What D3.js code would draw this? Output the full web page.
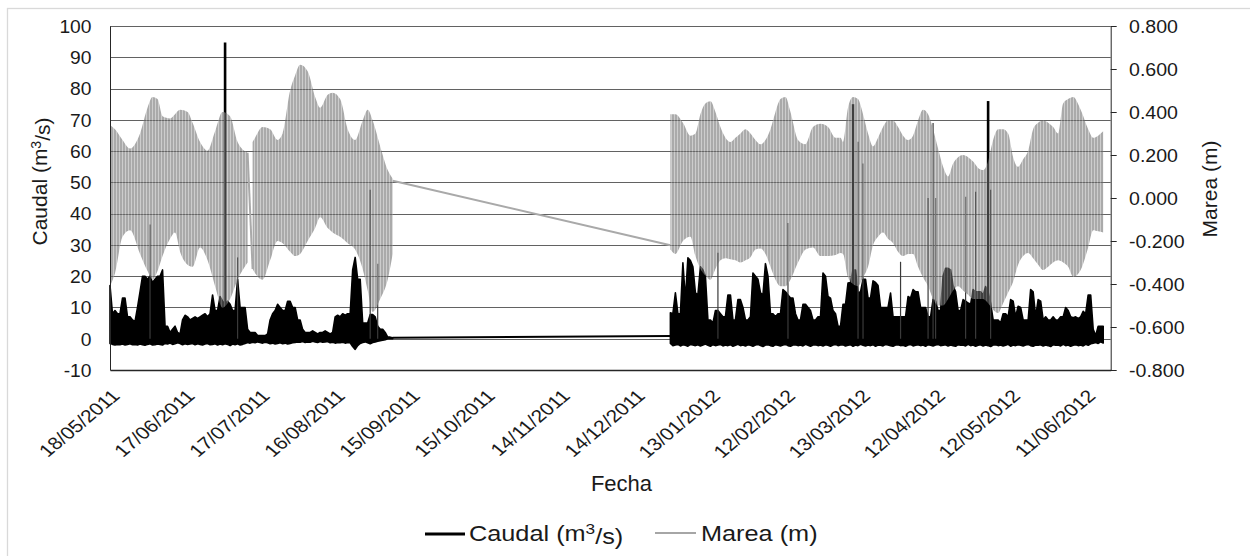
<!DOCTYPE html>
<html><head><meta charset="utf-8">
<script src="https://cdn.jsdelivr.net/npm/d3@7"></script>
<style>
body{margin:0;background:#fff}
svg text{font-family:"Liberation Sans",Arial,sans-serif;fill:#1a1a1a}
</style>
</head><body>
<svg id="c" width="1250" height="556"></svg>
<script>
// ---------------- DATA ----------------
const xTickLabels = ["18/05/2011","17/06/2011","17/07/2011","16/08/2011","15/09/2011","15/10/2011","14/11/2011","14/12/2011","13/01/2012","12/02/2012","13/03/2012","12/04/2012","12/05/2012","11/06/2012"];
const xDomain = ["2011-05-18","2012-06-21"];
const leftTicks = [-10,0,10,20,30,40,50,60,70,80,90,100];
const rightTicks = [-0.8,-0.6,-0.4,-0.2,0,0.2,0.4,0.6,0.8];

// Marea (m): envelope (daily high / low of the tidal oscillation), three recorded stretches
const tideDatesA = ["2011-05-18","2011-05-20","2011-05-23","2011-05-26","2011-05-30","2011-06-02","2011-06-04","2011-06-06","2011-06-08","2011-06-11","2011-06-13","2011-06-15","2011-06-18","2011-06-20","2011-06-23","2011-06-26","2011-06-29","2011-07-02","2011-07-05","2011-07-08","2011-07-12"];
const tideHighA = [0.34,0.32,0.27,0.23,0.30,0.42,0.47,0.46,0.38,0.37,0.39,0.41,0.40,0.35,0.26,0.22,0.31,0.40,0.38,0.26,0.21];
const tideLowA = [-0.41,-0.35,-0.18,-0.15,-0.26,-0.34,-0.38,-0.34,-0.27,-0.19,-0.16,-0.25,-0.31,-0.32,-0.23,-0.29,-0.41,-0.51,-0.47,-0.38,-0.30];

const tideDatesB = ["2011-07-14","2011-07-15","2011-07-18","2011-07-21","2011-07-24","2011-07-26","2011-07-29","2011-07-31","2011-08-02","2011-08-05","2011-08-08","2011-08-10","2011-08-13","2011-08-15","2011-08-18","2011-08-21","2011-08-24","2011-08-27","2011-08-29","2011-08-31","2011-09-03","2011-09-06","2011-09-08"];
const tideHighB = [0.26,0.28,0.33,0.32,0.27,0.30,0.50,0.57,0.62,0.59,0.47,0.42,0.48,0.49,0.46,0.32,0.27,0.36,0.41,0.36,0.24,0.13,0.09];
const tideLowB = [-0.33,-0.35,-0.38,-0.29,-0.20,-0.21,-0.25,-0.27,-0.26,-0.20,-0.14,-0.09,-0.14,-0.16,-0.18,-0.21,-0.24,-0.33,-0.43,-0.53,-0.47,-0.38,-0.26];

const tideDatesC = ["2011-12-28","2011-12-30","2012-01-02","2012-01-05","2012-01-07","2012-01-09","2012-01-11","2012-01-13","2012-01-15","2012-01-17",
"2012-01-19","2012-01-21","2012-01-23","2012-01-25","2012-01-27","2012-01-29","2012-01-31","2012-02-02","2012-02-04","2012-02-06",
"2012-02-08","2012-02-10","2012-02-12","2012-02-14","2012-02-17","2012-02-20","2012-02-23","2012-02-26","2012-02-29","2012-03-03",
"2012-03-05","2012-03-06","2012-03-08","2012-03-10","2012-03-12","2012-03-14","2012-03-16","2012-03-18","2012-03-20","2012-03-22",
"2012-03-24","2012-03-26","2012-03-28","2012-03-30","2012-04-01","2012-04-03","2012-04-05","2012-04-07","2012-04-09","2012-04-11",
"2012-04-13","2012-04-15","2012-04-17","2012-04-19","2012-04-21","2012-04-23","2012-04-25","2012-04-27","2012-04-29","2012-05-01",
"2012-05-03","2012-05-05","2012-05-07","2012-05-09","2012-05-11","2012-05-13","2012-05-15","2012-05-17","2012-05-19","2012-05-21",
"2012-05-23","2012-05-25","2012-05-27","2012-05-29","2012-05-31","2012-06-02","2012-06-04","2012-06-06","2012-06-09","2012-06-12",
"2012-06-14","2012-06-16","2012-06-18"];
const tideHighC = [0.39,0.39,0.35,0.29,0.30,0.39,0.44,0.45,0.40,0.33,
0.28,0.26,0.28,0.30,0.32,0.30,0.27,0.25,0.27,0.32,
0.40,0.46,0.47,0.40,0.27,0.25,0.33,0.345,0.33,0.28,
0.28,0.26,0.42,0.47,0.46,0.39,0.30,0.24,0.28,0.33,
0.36,0.36,0.33,0.29,0.27,0.29,0.36,0.41,0.39,0.32,
0.23,0.145,0.10,0.16,0.19,0.20,0.19,0.17,0.14,0.13,
0.17,0.27,0.32,0.32,0.30,0.19,0.145,0.18,0.22,0.32,
0.35,0.36,0.35,0.33,0.30,0.44,0.46,0.47,0.41,0.32,
0.28,0.29,0.31];
const tideLowC = [-0.24,-0.26,-0.20,-0.18,-0.27,-0.33,-0.36,-0.38,-0.33,-0.29,
-0.28,-0.285,-0.29,-0.30,-0.29,-0.275,-0.24,-0.235,-0.26,-0.32,
-0.38,-0.41,-0.41,-0.38,-0.30,-0.24,-0.23,-0.27,-0.27,-0.265,
-0.256,-0.26,-0.37,-0.40,-0.41,-0.37,-0.32,-0.22,-0.18,-0.16,
-0.19,-0.21,-0.25,-0.27,-0.26,-0.26,-0.32,-0.37,-0.41,-0.47,
-0.50,-0.50,-0.47,-0.43,-0.41,-0.43,-0.45,-0.47,-0.47,-0.47,
-0.49,-0.52,-0.535,-0.49,-0.44,-0.39,-0.31,-0.27,-0.256,-0.28,
-0.31,-0.335,-0.32,-0.30,-0.29,-0.30,-0.32,-0.367,-0.335,-0.23,
-0.15,-0.155,-0.16];

// straight connections drawn across missing tide records
const tideLinkFrom = ["2011-07-12","2011-09-08"];
const tideLinkFromValue = [0.21,0.08];
const tideLinkTo = ["2011-07-14","2011-12-28"];
const tideLinkToValue = [-0.33,-0.22];

// Caudal (m3/s): daily high / low envelope, two recorded stretches
const caudalStart1 = "2011-05-18";
const caudalHigh1 = [17,8,9,8,8,13,13,7,7,6,
5.5,10,15,20,20,19,20,18,19,20,
20,22,4,4,2,3,4,2,1.5,6,
7.5,7,6,6.5,7,6.5,7,7.5,8,7,
8,14,9,9,13.5,12,11,12,11,9,
9,19,10,10,10,3,2,2,2,1,
1,1,1,1.5,6,8,9,11,10,9,
9,12,12,10,10,6,6,3,2,2,
2,2.5,2,1.5,2,2,2.5,2,1.5,2,
7,7.5,7,8,7.5,8,8,22,26,19,
19,5,5,5,7.7,7.7,7,4,3,3,
2,0.5,0.5,0.3];
const caudalLow1 = [-1.5,-1.8,-2.0,-1.8,-1.9,-1.7,-2.0,-1.8,-1.6,-1.9,-1.8,-2.0,-1.7,-1.9,-2.1,-1.8,-1.6,-2.0,-1.9,-1.7,-1.8,-2.0,
-1.5,-1.7,-1.4,-1.8,-1.6,-1.3,-1.5,-1.9,-1.6,-1.8,-1.7,-1.5,-1.9,-1.6,-1.8,-2.0,-1.7,-1.5,-1.9,-1.8,-1.6,-2.0,-1.7,-1.9,-1.6,-1.8,-2.2,-1.7,-1.9,-1.6,-2.0,-1.8,-1.5,
-1.2,-1.4,-1.1,-1.3,-1.0,-1.2,-1.4,-1.1,-1.3,-1.6,-1.4,-1.7,-1.5,-1.3,-1.6,-1.4,-1.7,-1.5,-1.3,-1.2,-1.0,-1.1,-0.9,-1.2,-1.0,-1.1,-0.8,-1.0,-1.2,-0.9,-1.1,-1.0,-0.9,-1.3,-1.1,-1.4,-1.2,-1.3,-1.1,-1.4,-1.2,-1.3,
-2.5,-3.4,-2.2,-1.5,-1.2,-1.0,-1.3,-1.6,-1.2,-1.0,-0.8,-0.6,-0.5,-0.3,0,0,0];

const caudalStart2 = "2011-12-28";
const caudalHigh2 = [8.3,8,14.7,8,8,24.3,12.5,25.9,25,23,
14.7,14,23,22,20,6,6,5,9,9,
8,7,7,14,14,6,6,12.5,12.5,10,
6,6,7,21,20,19,14.7,14,24,20,
8,8,7,8,8,15.7,15,14,13,13,
8,6,6,11,11,10,9,6,6,7,
7,21,20,13.5,13,9,8,4,4,11,
11,17.8,18,22,22,14.6,15,19,19,13,
13,18.5,18,17,10,10,10,10,14.6,7,
7,7,7,7,7,13.5,13,15.7,15,15,
10,10,10,7,7,12.5,12,9,9,20,
22.5,22.5,22,17,15,9,9,12.5,12,11.4,
11,15.7,15,15,15,14,16.7,15,11.4,6,
6,6,5,8,8,7,12.5,12,7,10.4,
10,6,6,6,15.7,15,7,12.5,12,6,
7,6,6,7,6,6,7,7,10,9,
7,6.7,7,6.5,7,8.8,8,14,14,3,
1,4,4,4];
const caudalLow2 = [-1.5,-2.2,-2.0,-1.8,-2.3,-1.9,-2.1,-2.4,-1.8,-2.0,
-2.2,-1.9,-2.3,-2.0,-1.7,-2.1,-2.4,-1.9,-2.2,-2.0,
-1.8,-2.3,-2.0,-2.2,-1.9,-2.4,-2.1,-1.8,-2.2,-2.0,
-2.3,-1.9,-2.1,-2.4,-2.0,-1.8,-2.2,-2.5,-2.0,-1.9,
-2.2,-2.4,-1.9,-2.1,-2.3,-2.0,-1.8,-2.2,-2.4,-2.0,
-1.9,-2.2,-2.0,-2.3,-1.8,-2.1,-2.4,-2.0,-1.9,-2.2,
-2.0,-2.3,-1.9,-2.1,-2.4,-2.0,-1.8,-2.2,-2.0,-1.9,
-2.3,-2.1,-1.9,-2.4,-2.0,-2.2,-1.8,-2.1,-2.3,-2.0,
-2.2,-1.9,-2.4,-2.0,-2.1,-2.3,-1.8,-2.0,-2.2,-2.4,
-2.0,-1.9,-2.2,-2.1,-2.4,-2.0,-1.8,-2.3,-2.1,-1.9,
-2.2,-2.0,-2.4,-1.9,-2.1,-2.3,-2.0,-1.8,-2.2,-2.1,
-1.9,-2.3,-2.0,-2.2,-2.4,-1.9,-2.1,-2.0,-2.3,-1.8,
-2.2,-2.0,-2.4,-2.1,-1.9,-2.3,-2.0,-2.2,-2.5,-2.0,
-1.9,-2.2,-2.0,-2.3,-2.1,-1.8,-2.4,-2.0,-2.2,-1.9,
-2.1,-2.3,-2.0,-1.8,-2.2,-2.4,-2.0,-2.1,-1.9,-2.3,
-2.0,-2.2,-2.5,-1.9,-2.1,-2.0,-2.3,-1.8,-2.2,-2.0,
-2.4,-2.1,-1.9,-2.2,-2.0,-2.3,-1.8,-2.1,-1.6,-1.4,
-1.2,-1.5,-1.0,-1.4];

const caudalLinkDates = ["2011-09-08","2011-12-28"];
const caudalLinkValues = [0.3,0.9];

// short flood peaks of Caudal (m3/s)
const spikeDates = ["2011-06-03","2011-07-03","2011-07-08","2011-08-30","2011-09-02","2012-01-16","2012-02-13","2012-03-10","2012-03-12","2012-03-14","2012-03-29","2012-04-09","2012-04-11","2012-04-12","2012-04-24","2012-04-28","2012-05-03","2012-05-04"];
const spikeValues = [36.5,94.7,26,47.6,24,27.5,37,75,63,56,24.6,45,69,45,45.4,47,76,47.6];

// ---------------- CHART ----------------
const svg = d3.select("#c");
const parse = d3.timeParse("%Y-%m-%d");
const parseLabel = d3.timeParse("%d/%m/%Y");
const fmtLabel = d3.timeFormat("%d/%m/%Y");
const loc = d3.formatLocale({decimal:".", thousands:",", grouping:[3], currency:["",""], minus:"-"});

const L = 110, R = 1110.7, T = 26, B = 370;
const x = d3.scaleTime().domain(xDomain.map(parse)).range([L, R]);
const yL = d3.scaleLinear().domain([-10, 100]).range([B, T]);
const yR = d3.scaleLinear().domain([-0.8, 0.8]).range([B, T]);

// outer chart border
svg.append("rect").attr("x",7.5).attr("y",8.5).attr("width",1400).attr("height",700)
  .attr("fill","#fff").attr("stroke","#d9d9d9").attr("stroke-width",1.3);

const defs = svg.append("defs");
const pat = defs.append("pattern").attr("id","tp").attr("patternUnits","userSpaceOnUse")
  .attr("width",3).attr("height",4);
pat.append("rect").attr("width",3).attr("height",4).attr("fill","#6c6c6c");
pat.append("rect").attr("x",2).attr("width",1).attr("height",4).attr("fill","#a8a8a8");

// gridlines
svg.append("g").selectAll("line").data(leftTicks.filter(v => v > -10)).join("line")
  .attr("x1",L).attr("x2",R)
  .attr("y1",d => Math.round(yL(d))+0.5).attr("y2",d => Math.round(yL(d))+0.5)
  .attr("stroke","#626262").attr("stroke-width",1);

// caudal
function caudalRows(start, hi, lo){
  const s = parse(start);
  return hi.map((h,i) => ({date: d3.timeDay.offset(s,i), hi: h, lo: lo[i]}));
}
const cArea = d3.area().x(d => x(d.date)).y0(d => yL(d.lo)).y1(d => yL(d.hi));
[caudalRows(caudalStart1, caudalHigh1, caudalLow1), caudalRows(caudalStart2, caudalHigh2, caudalLow2)]
  .forEach(rows => {
    svg.append("path").datum(rows).attr("d",cArea)
      .attr("fill","#000").attr("stroke","#000").attr("stroke-width",1.6).attr("stroke-linejoin","round");
  });
svg.append("path")
  .datum(caudalLinkDates.map((d,i) => ({date: parse(d), v: caudalLinkValues[i]})))
  .attr("d", d3.line().x(d => x(d.date)).y(d => yL(d.v)))
  .attr("fill","none").attr("stroke","#000").attr("stroke-width",2);
svg.append("g").selectAll("line").data(spikeDates.map((d,i) => ({date: parse(d), v: spikeValues[i]}))).join("line")
  .attr("x1",d => x(d.date)).attr("x2",d => x(d.date))
  .attr("y1",yL(0)).attr("y2",d => yL(d.v))
  .attr("stroke",d => d.v > 70 ? "#000" : "#3a3a3a").attr("stroke-width",d => d.v > 70 ? 2.6 : 1.2);

// tide (secondary axis), drawn over the flow like the original
const tArea = d3.area().curve(d3.curveMonotoneX)
  .x(d => x(d.date)).y0(d => yR(d.lo)).y1(d => yR(d.hi));
[[tideDatesA,tideHighA,tideLowA],[tideDatesB,tideHighB,tideLowB],[tideDatesC,tideHighC,tideLowC]]
  .forEach(([ds,hi,lo]) => {
    const rows = ds.map((d,i) => ({date: parse(d), hi: hi[i], lo: lo[i]}));
    svg.append("path").datum(rows).attr("d",tArea)
      .attr("fill","url(#tp)").attr("opacity",0.58);
  });
svg.append("g").selectAll("line").data(tideLinkFrom.map((d,i) => ({
    a: parse(d), av: tideLinkFromValue[i], b: parse(tideLinkTo[i]), bv: tideLinkToValue[i]}))).join("line")
  .attr("x1",d => x(d.a)).attr("y1",d => yR(d.av))
  .attr("x2",d => x(d.b)).attr("y2",d => yR(d.bv))
  .attr("stroke","#a9a9a9").attr("stroke-width",2);

// axes
const axisColor = "#262626";
const gl = svg.append("g").attr("transform",`translate(${L},0)`)
  .call(d3.axisLeft(yL).tickValues(leftTicks).tickSize(0).tickSizeOuter(0).tickFormat(loc.format("d")));
gl.select(".domain").attr("stroke",axisColor);
gl.selectAll("text").attr("x",null).attr("dy","0.36em")
  .attr("transform","translate(-18.5,0) scale(1.1,1)")
  .style("font-size","17.5px").attr("fill","#1a1a1a");

const gr = svg.append("g").attr("transform",`translate(${R},0)`)
  .call(d3.axisRight(yR).tickValues(rightTicks).tickSize(6).tickSizeOuter(0).tickFormat(loc.format(".3f")));
gr.select(".domain").attr("stroke",axisColor);
gr.selectAll(".tick line").attr("stroke",axisColor);
gr.selectAll("text").attr("x",null).attr("dy","0.36em")
  .attr("transform","translate(18.3,0) scale(1.12,1)")
  .style("font-size","17.5px").attr("fill","#1a1a1a");

const gb = svg.append("g").attr("transform",`translate(0,${B})`)
  .call(d3.axisBottom(x).tickValues(xTickLabels.map(parseLabel)).tickSize(0).tickSizeOuter(0).tickFormat(fmtLabel));
gb.select(".domain").attr("stroke",axisColor).attr("stroke-width",1.3);
gb.selectAll("text").attr("y",0).attr("dy",0).attr("text-anchor","end")
  .attr("transform","translate(10.5,27) scale(1.2,1) rotate(-45)")
  .style("font-size","17.5px").attr("fill","#1a1a1a");

// titles
const tl = svg.append("text").attr("transform","translate(47,181.5) rotate(-90)")
  .attr("text-anchor","middle").style("font-size","21px");
tl.append("tspan").text("Caudal (m");
tl.append("tspan").text("3").attr("dy","-0.45em").style("font-size","14px");
tl.append("tspan").text("/s)").attr("dy","0.45em");

svg.append("text").attr("transform","translate(1217,189) rotate(-90)")
  .attr("text-anchor","middle").style("font-size","21px").text("Marea (m)");

svg.append("text").attr("x",621.5).attr("y",491).attr("text-anchor","middle")
  .style("font-size","22px").text("Fecha");

// legend
svg.append("line").attr("x1",425).attr("x2",465).attr("y1",534).attr("y2",534)
  .attr("stroke","#000").attr("stroke-width",3);
const lg1 = svg.append("text").attr("transform","translate(469,541) scale(1.15,1)").style("font-size","22px");
lg1.append("tspan").text("Caudal (m");
lg1.append("tspan").text("3").attr("dy","-0.45em").style("font-size","15px");
lg1.append("tspan").text("/s)").attr("dy","0.45em");
svg.append("line").attr("x1",655).attr("x2",696).attr("y1",533).attr("y2",533)
  .attr("stroke","#a6a6a6").attr("stroke-width",2);
svg.append("text").attr("transform","translate(701,541) scale(1.15,1)").style("font-size","22px").text("Marea (m)");
</script>
</body></html>
